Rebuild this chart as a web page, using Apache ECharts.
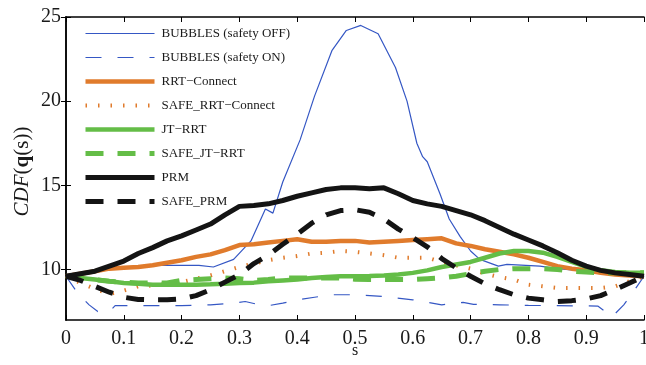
<!DOCTYPE html>
<html>
<head>
<meta charset="utf-8">
<style>
  html, body { margin: 0; padding: 0; background: #fff; }
  #chart { width: 646px; height: 365px; }
</style>
</head>
<body>
<div id="chart"></div>
<script src="https://cdn.jsdelivr.net/npm/echarts@6/dist/echarts.min.js"></script>
<script>
// common s grid (step 0.025)
var sGrid = [0, 0.025, 0.05, 0.075, 0.1, 0.125, 0.15, 0.175, 0.2, 0.225,
  0.25, 0.275, 0.3, 0.325, 0.35, 0.375, 0.4, 0.425, 0.45, 0.475,
  0.5, 0.525, 0.55, 0.575, 0.6, 0.625, 0.65, 0.675, 0.7, 0.725,
  0.75, 0.775, 0.8, 0.825, 0.85, 0.875, 0.9, 0.925, 0.95, 0.975, 1];

// BUBBLES curves were read at their own points
var sBubblesOff = [0, 0.05, 0.1, 0.15, 0.2, 0.23, 0.255, 0.29, 0.32, 0.345, 0.358,
  0.375, 0.405, 0.43, 0.46, 0.485, 0.51, 0.54, 0.57, 0.59, 0.607, 0.617, 0.625,
  0.647, 0.663, 0.682, 0.7, 0.716, 0.748, 0.763, 0.82, 0.85, 0.9, 0.95, 1];
var bubblesOff = [9.7, 9.9, 10.1, 10.25, 10.25, 10.25, 10.15, 10.6, 11.7, 13.6, 13.35,
  15.2, 17.7, 20.3, 23.0, 24.2, 24.5, 24.0, 22.0, 20.0, 17.5, 16.7, 16.4,
  14.5, 13.0, 11.95, 11.1, 10.6, 10.2, 10.3, 10.2, 10.05, 9.9, 9.8, 9.7];

var sBubblesOn = [0, 0.02, 0.04, 0.055, 0.075, 0.085, 0.1, 0.15, 0.2, 0.25, 0.29, 0.31,
  0.335, 0.35, 0.375, 0.4, 0.43, 0.46, 0.5, 0.55, 0.6, 0.65, 0.687, 0.705, 0.75,
  0.8, 0.85, 0.92, 0.945, 0.965, 0.98, 1];
var bubblesOn = [9.6, 8.6, 7.9, 7.5, 7.5, 7.85, 7.85, 7.85, 7.85, 7.9, 8.0, 8.1,
  7.9, 7.85, 8.0, 8.2, 8.35, 8.5, 8.5, 8.4, 8.2, 7.9, 8.05, 7.93, 7.9,
  7.87, 7.85, 7.83, 7.2, 7.9, 8.6, 9.6];

var rrtConnect = [9.6, 9.75, 9.9, 10.05, 10.1, 10.15, 10.25, 10.4, 10.55, 10.75,
  10.9, 11.15, 11.45, 11.5, 11.6, 11.7, 11.8, 11.65, 11.65, 11.7,
  11.7, 11.6, 11.65, 11.7, 11.75, 11.8, 11.85, 11.55, 11.4, 11.2,
  11.05, 10.9, 10.7, 10.45, 10.2, 10.05, 9.95, 9.8, 9.7, 9.65, 9.6];
var safeRrtConnect = [9.6, 9.2, 8.85, 8.55, 8.75, 9.0, 9.05, 9.15, 9.25, 9.45,
  9.65, 9.9, 10.15, 10.35, 10.55, 10.7, 10.8, 10.95, 11.0, 11.1,
  11.05, 10.95, 10.85, 10.7, 10.7, 10.7, 10.45, 10.25, 10.05, 9.75,
  9.55, 9.4, 9.1, 9.0, 8.9, 8.9, 8.9, 8.9, 9.0, 9.3, 9.6];
var jtRrt = [9.6, 9.5, 9.4, 9.3, 9.2, 9.15, 9.1, 9.1, 9.1, 9.1,
  9.12, 9.15, 9.2, 9.22, 9.3, 9.35, 9.4, 9.5, 9.55, 9.6,
  9.6, 9.62, 9.65, 9.7, 9.8, 9.95, 10.15, 10.3, 10.45, 10.7,
  10.95, 11.1, 11.1, 11.0, 10.75, 10.45, 10.15, 9.95, 9.85, 9.8, 9.8];
var safeJtRrt = [9.6, 9.5, 9.4, 9.3, 9.25, 9.2, 9.2, 9.2, 9.35, 9.4,
  9.45, 9.5, 9.45, 9.35, 9.4, 9.5, 9.5, 9.5, 9.5, 9.5,
  9.42, 9.4, 9.4, 9.4, 9.4, 9.45, 9.5, 9.6, 9.75, 9.9,
  10.0, 10.05, 10.05, 10.05, 10.0, 9.9, 9.85, 9.8, 9.8, 9.8, 9.8];
var prm = [9.6, 9.75, 9.9, 10.2, 10.5, 10.95, 11.3, 11.7, 12.0, 12.35,
  12.7, 13.25, 13.75, 13.8, 13.9, 14.1, 14.35, 14.55, 14.75, 14.85,
  14.85, 14.8, 14.85, 14.5, 14.1, 13.9, 13.75, 13.5, 13.25, 12.9,
  12.5, 12.1, 11.75, 11.4, 11.0, 10.55, 10.2, 9.95, 9.8, 9.7, 9.6];
var safePrm = [9.6, 9.35, 9.0, 8.65, 8.35, 8.22, 8.2, 8.2, 8.25, 8.45,
  8.8, 9.25, 9.7, 10.35, 10.85, 11.5, 12.1, 12.75, 13.25, 13.5,
  13.55, 13.4, 13.0, 12.4, 11.9, 11.35, 10.65, 10.1, 9.6, 9.15,
  8.8, 8.5, 8.3, 8.2, 8.1, 8.15, 8.25, 8.45, 8.8, 9.2, 9.6];

var yTicks = [10, 15, 20, 25];

function pairs(xs, ys) {
  var out = [];
  for (var i = 0; i < xs.length; i++) out.push([xs[i], ys[i]]);
  return out;
}

var FONT = '"Liberation Serif", "Times New Roman", serif';
var BLUE = '#3557c4', ORANGE = '#e07b2c', GREEN = '#64bd47', BLACK = '#141414';

function line(name, xs, ys, color, width, type) {
  return {
    name: name, type: 'line', data: pairs(xs, ys),
    symbol: 'none', showSymbol: false, smooth: false,
    lineStyle: { color: color, width: width, type: type || 'solid', cap: 'butt' },
    itemStyle: { color: color }
  };
}

var chart = echarts.init(document.getElementById('chart'));

var tickStyle = { show: true, inside: true, length: 5, lineStyle: { color: '#000', width: 1 } };
var lineAx = { show: true, lineStyle: { color: '#000', width: 1.5 } };

var option = {
  animation: false,
  backgroundColor: '#fff',
  textStyle: { fontFamily: FONT },
  grid: { left: 66, right: 2, top: 17, bottom: 45, outerBoundsMode: 'none' },
  legend: {
    orient: 'vertical', left: 78, top: 22,
    itemWidth: 69, itemHeight: 14, itemGap: 11,
    itemStyle: { opacity: 0 },
    lineStyle: { color: 'inherit', width: 'inherit', type: 'inherit' },
    textStyle: { fontFamily: FONT, fontSize: 13, color: '#1a1a1a', padding: [0, 0, 0, 2] },
    data: ['BUBBLES (safety OFF)', 'BUBBLES (safety ON)', 'RRT\u2212Connect', 'SAFE_RRT\u2212Connect',
      'JT\u2212RRT', 'SAFE_JT\u2212RRT', 'PRM', 'SAFE_PRM']
  },
  xAxis: [{
    type: 'value', min: 0, max: 1, interval: 0.1,
    name: 's', nameLocation: 'middle', nameGap: 23, nameMoveOverlap: false,
    nameTextStyle: { fontFamily: FONT, fontSize: 16, color: '#1a1a1a' },
    axisLine: lineAx, axisTick: tickStyle, splitLine: { show: false },
    axisLabel: { fontFamily: FONT, fontSize: 20, color: '#1a1a1a', margin: 9 }
  }, {
    type: 'value', min: 0, max: 1, interval: 0.1, position: 'top',
    axisLine: lineAx, axisTick: tickStyle, splitLine: { show: false },
    axisLabel: { show: false }
  }],
  yAxis: [{
    type: 'value', min: 7, max: 25,
    name: '{i|CDF}{n|(}{b|q}{n|(s))}', nameLocation: 'middle', nameGap: 33, nameRotate: 90,
    nameMoveOverlap: false,
    nameTextStyle: {
      padding: [0, 6, 0, 0],
      rich: {
        i: { fontFamily: FONT, fontSize: 21, fontStyle: 'italic', color: '#1a1a1a' },
        n: { fontFamily: FONT, fontSize: 21, color: '#1a1a1a' },
        b: { fontFamily: FONT, fontSize: 21, fontWeight: 'bold', color: '#1a1a1a' }
      }
    },
    axisLine: lineAx,
    axisTick: Object.assign({ customValues: yTicks }, tickStyle),
    splitLine: { show: false },
    axisLabel: { customValues: yTicks, fontFamily: FONT, fontSize: 20, color: '#1a1a1a', margin: 5 }
  }, {
    type: 'value', min: 7, max: 25, position: 'right',
    axisLine: lineAx,
    axisTick: Object.assign({ customValues: yTicks }, tickStyle),
    splitLine: { show: false },
    axisLabel: { show: false }
  }],
  series: [
    line('BUBBLES (safety OFF)', sBubblesOff, bubblesOff, BLUE, 1.2),
    line('BUBBLES (safety ON)', sBubblesOn, bubblesOn, BLUE, 1.2, [16, 16]),
    line('RRT\u2212Connect', sGrid, rrtConnect, ORANGE, 4.5),
    line('SAFE_RRT\u2212Connect', sGrid, safeRrtConnect, ORANGE, 4, [1.5, 11]),
    line('JT\u2212RRT', sGrid, jtRrt, GREEN, 4.5),
    line('SAFE_JT\u2212RRT', sGrid, safeJtRrt, GREEN, 5, [18, 14]),
    line('PRM', sGrid, prm, BLACK, 5),
    line('SAFE_PRM', sGrid, safePrm, BLACK, 5, [18, 14])
  ]
};

chart.setOption(option);
</script>
</body>
</html>
